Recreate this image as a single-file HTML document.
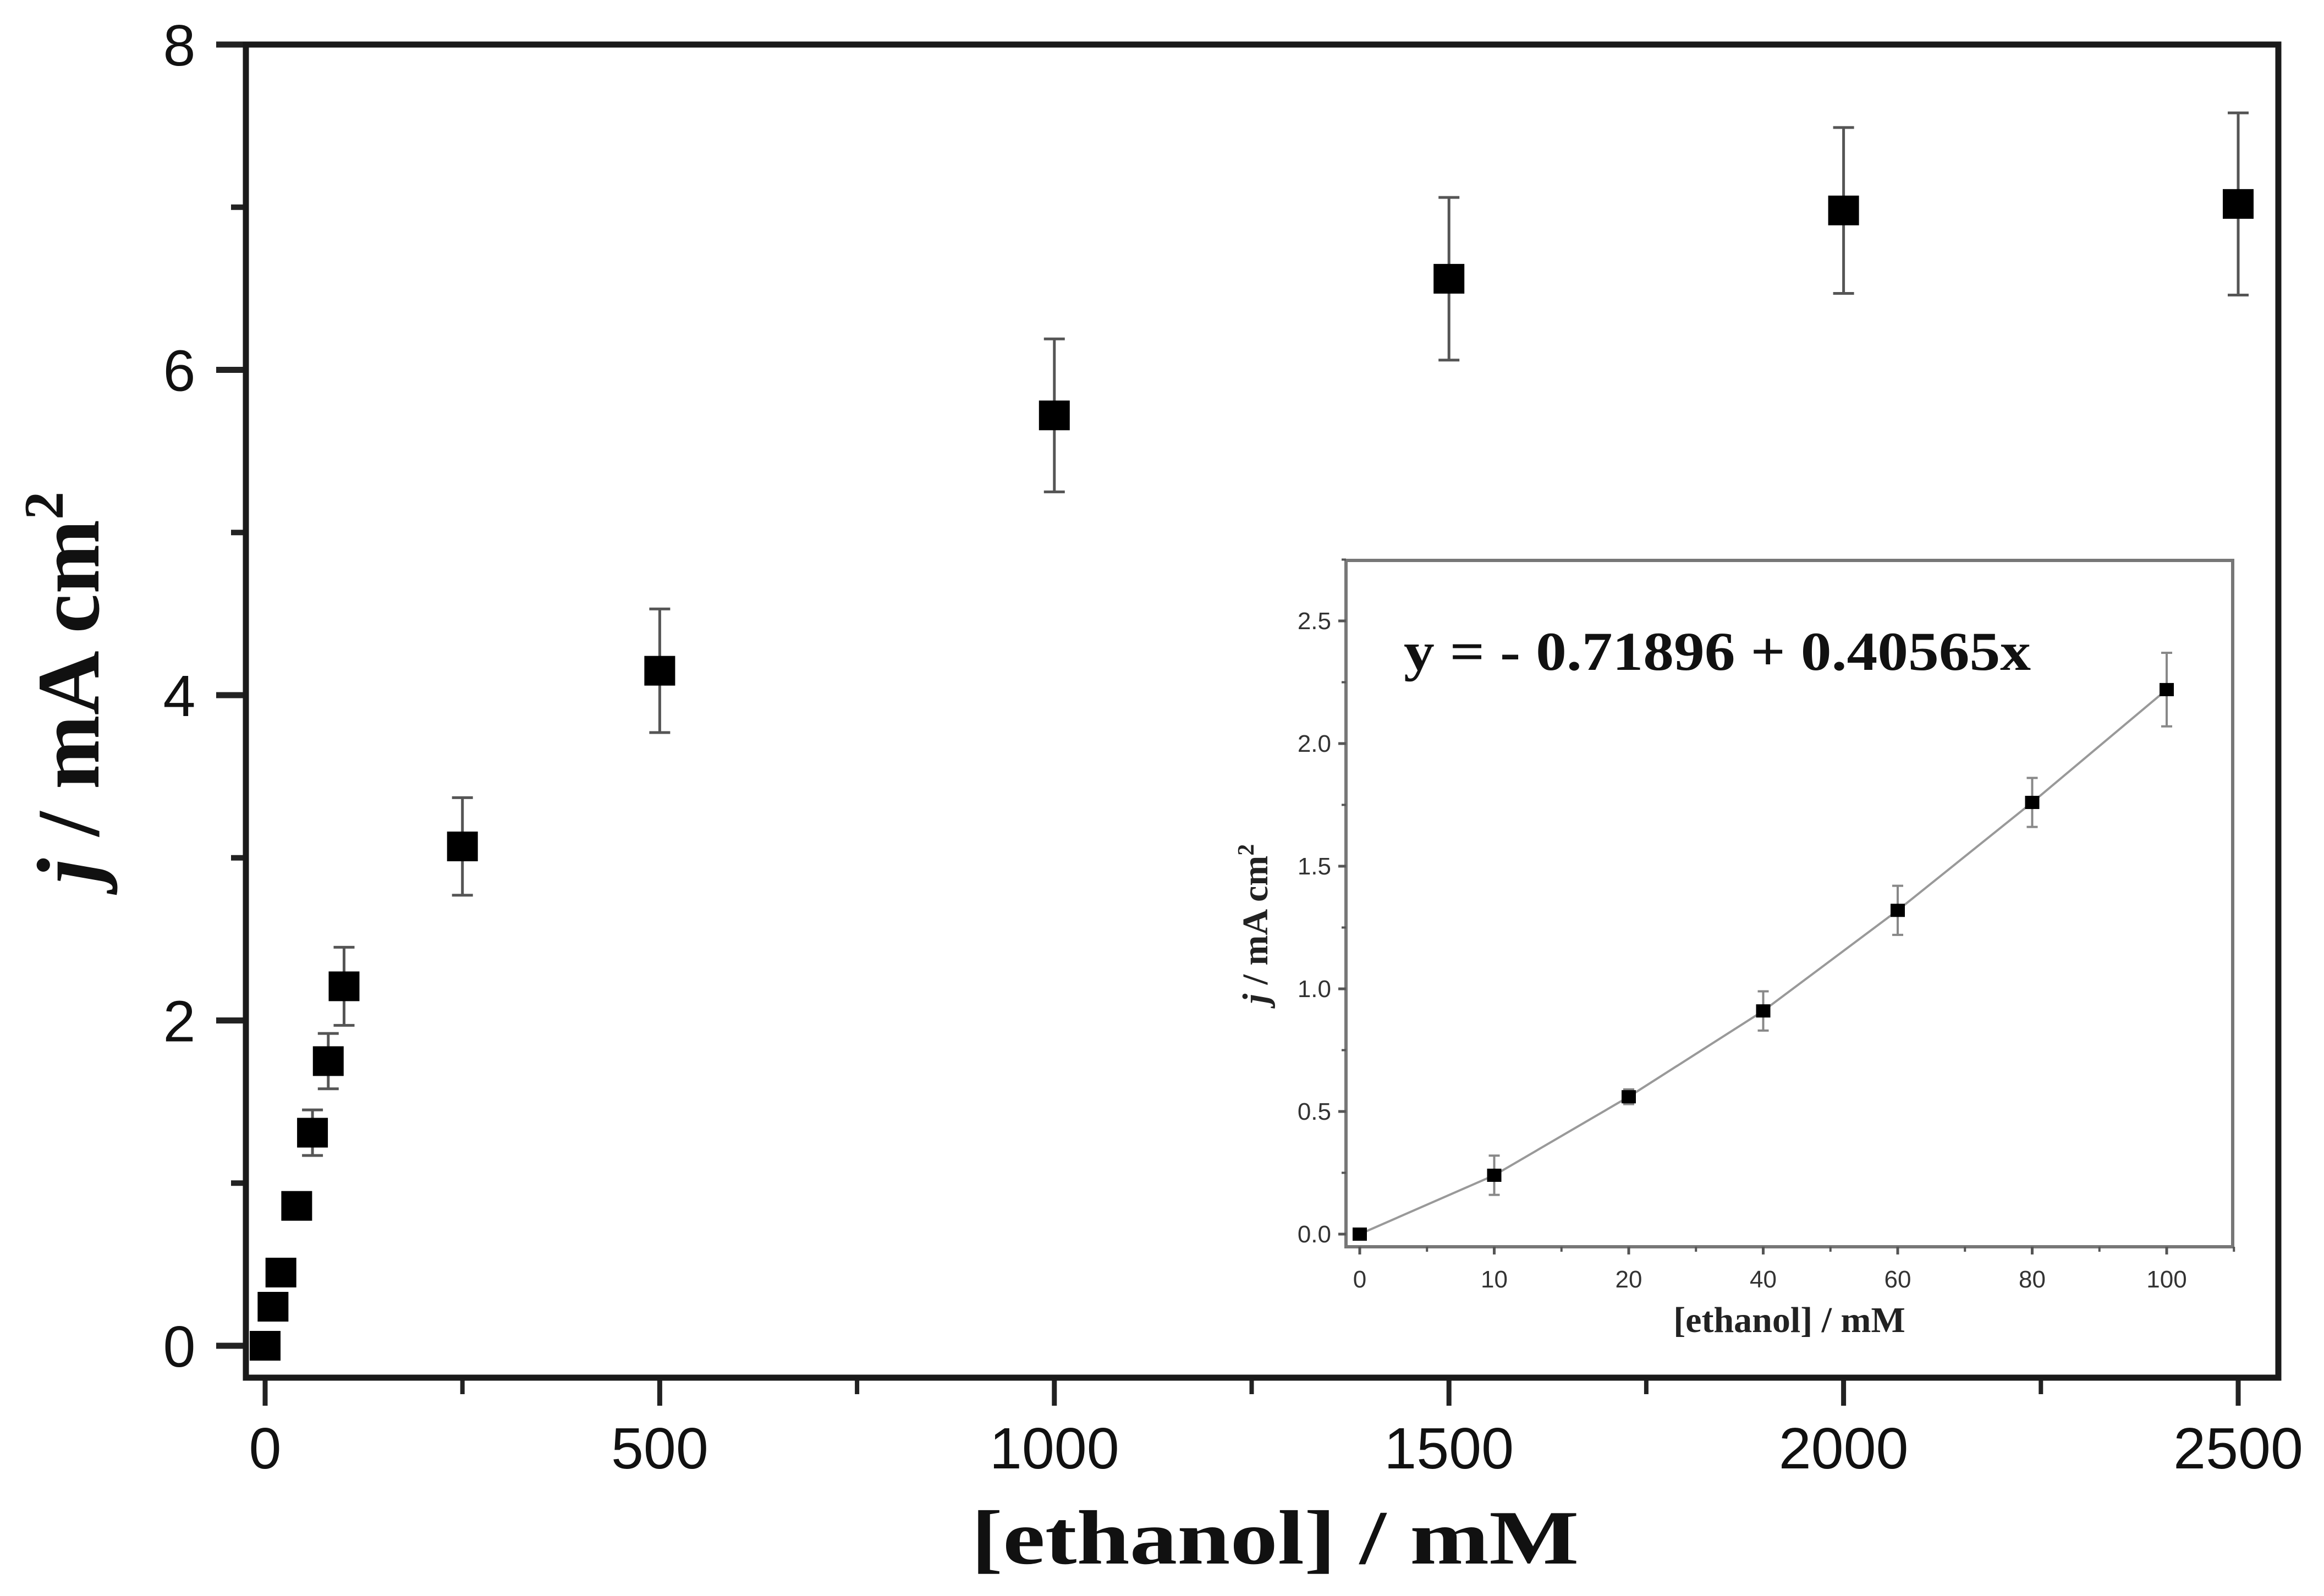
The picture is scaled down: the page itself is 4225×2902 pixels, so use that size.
<!DOCTYPE html>
<html><head><meta charset="utf-8"><style>
html,body{margin:0;padding:0;background:#fff;}
svg{display:block;}
</style></head><body>
<svg id="chart" width="4225" height="2902" viewBox="0 0 4225 2902" xmlns="http://www.w3.org/2000/svg">
<rect width="4225" height="2902" fill="#fff"/>
<g id="main"></g>
<g id="inset"></g>
</svg>
<script>
// main chart data
const mainX = [0, 10, 20, 40, 60, 80, 100, 250, 500, 1000, 1500, 2000, 2500];
const mainY = [0, 0.24, 0.45, 0.86, 1.31, 1.75, 2.21, 3.07, 4.15, 5.72, 6.56, 6.98, 7.02];
const mainErr = [0.03, 0.04, 0.05, 0.06, 0.14, 0.17, 0.24, 0.3, 0.38, 0.47, 0.5, 0.51, 0.56];
const mainXTicks = [0, 500, 1000, 1500, 2000, 2500];
const mainYTicks = [0, 2, 4, 6, 8];
// inset data
const insetConc = [0, 10, 20, 40, 60, 80, 100];
const insetY = [0, 0.24, 0.56, 0.91, 1.32, 1.76, 2.22];
const insetErr = [0.02, 0.08, 0.03, 0.08, 0.1, 0.1, 0.15];
const insetYTicks = [0, 0.5, 1.0, 1.5, 2.0, 2.5];

const NS = "http://www.w3.org/2000/svg";
function mk(parent, tag, attrs, text) {
  const e = document.createElementNS(NS, tag);
  for (const k in attrs) e.setAttribute(k, attrs[k]);
  if (text !== undefined) e.textContent = text;
  parent.appendChild(e);
  return e;
}
// main axes
const mX = v => 482 + (v - 0) * (4069 - 482) / 2500;
const mY = v => 2447 - v * (2447 - 81) / 8;
const M = document.getElementById('main');
const L = 447, T = 81, R = 4142, B = 2505;

mainYTicks.forEach((t, i) => {
  const y = mY(t);
  const tk = mk(M, 'line', {x1: 393, x2: L, y1: y, y2: y, stroke: '#222', 'stroke-width': 11});
  
  
  const lb = mk(M, 'text', {x: 326, y: y + 38, 'font-family': 'Liberation Sans, sans-serif', 'font-size': 106, 'text-anchor': 'middle', fill: '#111'}, String(t));
  
  
  if (i < mainYTicks.length - 1) {
    const ym = mY(t + 1);
    const mt = mk(M, 'line', {x1: 420, x2: L, y1: ym, y2: ym, stroke: '#222', 'stroke-width': 10});
    
    
  }
});
mainXTicks.forEach((t, i) => {
  const x = mX(t);
  const tk = mk(M, 'line', {x1: x, x2: x, y1: B, y2: 2556, stroke: '#222', 'stroke-width': 9});
  
  
  const lb = mk(M, 'text', {x: x, y: 2670, 'font-family': 'Liberation Sans, sans-serif', 'font-size': 106, 'text-anchor': 'middle', fill: '#111'}, String(t));
  
  
  if (i < mainXTicks.length - 1) {
    const xm = mX(t + 250);
    const mt = mk(M, 'line', {x1: xm, x2: xm, y1: B, y2: 2535, stroke: '#222', 'stroke-width': 8});
    
    
  }
});
const frame = mk(M, 'rect', {x: L, y: T, width: R - L, height: B - T, fill: 'none', stroke: '#1a1a1a', 'stroke-width': 11});



mainX.forEach((xv, i) => {
  const x = mX(xv), y = mY(mainY[i]), e = mainErr[i];
  if (e > 0.1) {
    const eb = mk(M, 'path', {d: `M${x},${mY(mainY[i] + e)}V${mY(mainY[i] - e)}M${x - 19},${mY(mainY[i] + e)}H${x + 19}M${x - 19},${mY(mainY[i] - e)}H${x + 19}`, stroke: '#555', 'stroke-width': 5, fill: 'none'});
    
    
  }
  const p = mk(M, 'rect', {x: x - 28, y: y - 27, width: 56, height: 54, fill: '#000'});
  
  
});

const xt = mk(M, 'text', {x: 2318, y: 2843, 'font-family': 'Liberation Serif, serif', 'font-weight': 'bold', 'font-size': 140, 'text-anchor': 'middle', fill: '#111', textLength: 1105, lengthAdjust: 'spacingAndGlyphs'}, '[ethanol] / mM');


const yt = mk(M, 'text', {transform: 'translate(179,1250) rotate(-90)', 'font-family': 'Liberation Serif, serif', 'font-weight': 'bold', 'font-size': 162, 'text-anchor': 'middle', fill: '#111'});


mk(yt, 'tspan', {'font-style': 'italic'}, 'j');
mk(yt, 'tspan', {}, ' / mA cm');
mk(yt, 'tspan', {'font-size': 102, dy: -65}, '2');

// inset
const I = document.getElementById('inset');
const iL = 2447, iT = 1019, iR = 4059, iB = 2267;
const iX = idx => 2472 + idx * 244.5;
const iY = v => 2244 - v * 446;
const ibg = mk(I, 'rect', {x: iL, y: iT, width: iR - iL, height: iB - iT, fill: '#fff', stroke: '#777', 'stroke-width': 6});


insetYTicks.forEach(t => {
  const y = iY(t);
  const tk = mk(I, 'line', {x1: iL - 14, x2: iL, y1: y, y2: y, stroke: '#555', 'stroke-width': 5});
  
  
  const mt = mk(I, 'line', {x1: iL - 8, x2: iL, y1: iY(t + 0.25), y2: iY(t + 0.25), stroke: '#555', 'stroke-width': 4});
  
  
  const lb = mk(I, 'text', {x: 2420, y: y + 15, 'font-family': 'Liberation Sans, sans-serif', 'font-size': 44, 'text-anchor': 'end', fill: '#333'}, t.toFixed(1));
  
  
});
insetConc.forEach((c, i) => {
  const x = iX(i);
  const tk = mk(I, 'line', {x1: x, x2: x, y1: iB, y2: iB + 14, stroke: '#555', 'stroke-width': 5});
  
  
  const mt = mk(I, 'line', {x1: iX(i + 0.5), x2: iX(i + 0.5), y1: iB, y2: iB + 9, stroke: '#555', 'stroke-width': 4});
  
  
  const lb = mk(I, 'text', {x: x, y: iB + 74, 'font-family': 'Liberation Sans, sans-serif', 'font-size': 44, 'text-anchor': 'middle', fill: '#333'}, String(c));
  
  
});
const line = mk(I, 'polyline', {points: insetConc.map((c, i) => iX(i) + ',' + iY(insetY[i])).join(' '), fill: 'none', stroke: '#999', 'stroke-width': 4});


insetConc.forEach((c, i) => {
  const x = iX(i), v = insetY[i], e = insetErr[i];
  const eb = mk(I, 'path', {d: `M${x},${iY(v + e)}V${iY(v - e)}M${x - 10},${iY(v + e)}H${x + 10}M${x - 10},${iY(v - e)}H${x + 10}`, stroke: '#888', 'stroke-width': 4, fill: 'none'});
  
  
  const p = mk(I, 'rect', {x: x - 13, y: iY(v) - 12, width: 26, height: 24, fill: '#000'});
  
  
});
const eq = mk(I, 'text', {x: 2552, y: 1218, 'font-family': 'Liberation Serif, serif', 'font-weight': 'bold', 'font-size': 100, fill: '#111', textLength: 1140, lengthAdjust: 'spacingAndGlyphs'}, 'y = - 0.71896 + 0.40565x');


const ixt = mk(I, 'text', {x: 3253, y: 2422, 'font-family': 'Liberation Serif, serif', 'font-weight': 'bold', 'font-size': 66, 'text-anchor': 'middle', fill: '#222'}, '[ethanol] / mM');


const iyt = mk(I, 'text', {transform: 'translate(2304,1680) rotate(-90)', 'font-family': 'Liberation Serif, serif', 'font-weight': 'bold', 'font-size': 66, 'text-anchor': 'middle', fill: '#222'});


mk(iyt, 'tspan', {'font-style': 'italic'}, 'j');
mk(iyt, 'tspan', {}, ' / mA cm');
mk(iyt, 'tspan', {'font-size': 42, dy: -25}, '2');
</script>
</body></html>
